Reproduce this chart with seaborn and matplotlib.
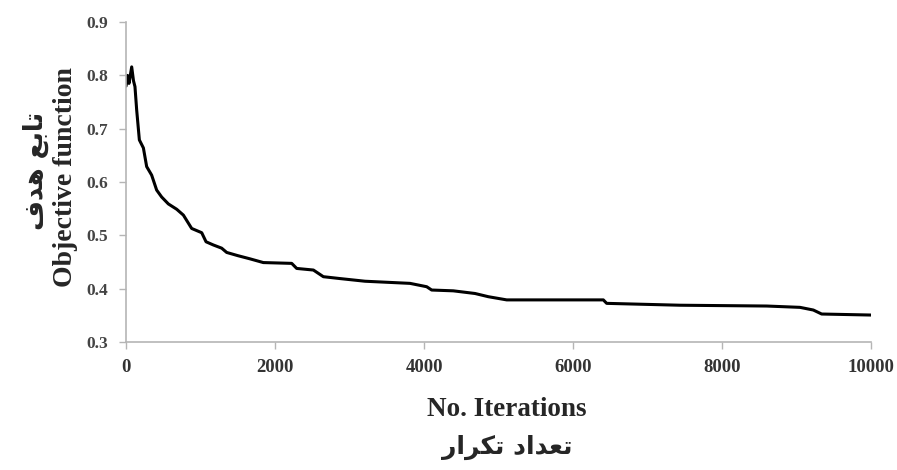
import matplotlib
matplotlib.use("Agg")
import matplotlib.pyplot as plt
import seaborn as sns
import pandas as pd

iterations = [0, 20, 40, 76, 100, 120, 143, 179, 233, 277, 344, 411, 478, 568, 680, 770,
              881, 1016, 1074, 1172, 1284, 1351, 1500, 1664, 1843, 2224, 2291, 2515, 2649,
              2872, 3208, 3812, 4036, 4103, 4393, 4685, 4863, 5110, 6407, 6452, 7436, 8600,
              9047, 9226, 9338, 10000]
objective = [0.78, 0.80, 0.785, 0.816, 0.79, 0.779, 0.735, 0.679, 0.664, 0.629, 0.613, 0.585,
             0.572, 0.559, 0.549, 0.538, 0.513, 0.505, 0.488, 0.482, 0.476, 0.468, 0.462,
             0.456, 0.449, 0.4475, 0.438, 0.435, 0.4225, 0.419, 0.414, 0.410, 0.4037, 0.3975,
             0.396, 0.391, 0.385, 0.379, 0.379, 0.3725, 0.369, 0.3675, 0.365, 0.36, 0.3525,
             0.3506]
x_ticks = [0, 2000, 4000, 6000, 8000, 10000]
y_ticks = [0.3, 0.4, 0.5, 0.6, 0.7, 0.8, 0.9]
x_label = "No. Iterations"
y_label = "Objective function"
# Persian labels in pre-shaped presentation forms (visual order): "تعداد تکرار", "تابع هدف"
x_label_fa = "\uFEAD\uFE8D\uFEAE\uFEDC\uFE97 \uFEA9\uFE8D\uFEAA\uFECC\uFE97"
y_label_fa = "\uFED1\uFEAA\uFEEB \uFECA\uFE91\uFE8E\uFE97"

sns.set_theme(style="white")
plt.rcParams["font.family"] = ["Liberation Serif", "DejaVu Serif"]

df = pd.DataFrame({"iter": iterations, "obj": objective})

fig = plt.figure(figsize=(8.97, 4.70), dpi=100)
ax = fig.add_axes([0.1405, 0.2723, 0.8305, 0.6807])
sns.lineplot(data=df, x="iter", y="obj", ax=ax, color="black", linewidth=2.2,
             estimator=None, sort=False)

ax.set_xlim(0, 10000)
ax.set_ylim(0.3, 0.9)
ax.set_xticks(x_ticks)
ax.set_yticks(y_ticks)
ax.set_xticklabels([str(v) for v in x_ticks])
ax.set_yticklabels([f"{v:.1f}" for v in y_ticks])
for lab in ax.get_xticklabels():
    lab.set_fontweight("bold")
    lab.set_fontsize(13.5)
    lab.set_color("#333333")
for lab in ax.get_yticklabels():
    lab.set_fontweight("bold")
    lab.set_fontsize(12.5)
    lab.set_color("#444444")

ax.set_xlabel("")
ax.set_ylabel("")
for s in ["top", "right"]:
    ax.spines[s].set_visible(False)
for s in ["left", "bottom"]:
    ax.spines[s].set_color("#b5b5b5")
    ax.spines[s].set_linewidth(1.2)
ax.tick_params(axis="both", which="major", direction="out", length=5, width=1,
               color="#b5b5b5", left=True, bottom=True)
ax.tick_params(axis="y", pad=8)
ax.tick_params(axis="x", pad=7)

fig.text(0.565, 0.128, x_label, ha="center", va="center", fontsize=19.5,
         fontweight="bold", family=["Liberation Serif"])
fig.text(0.565, 0.049, x_label_fa, ha="center", va="center", fontsize=18,
         fontweight="bold", family=["DejaVu Sans"])
fig.text(0.0735, 0.623, y_label, ha="center", va="center", rotation=90, fontsize=20,
         fontweight="bold", family=["Liberation Serif"])
fig.text(0.040, 0.636, y_label_fa, ha="center", va="center", rotation=90, fontsize=18.5,
         fontweight="bold", family=["DejaVu Sans"])

fig.savefig("out.png", dpi=100, facecolor="white")
